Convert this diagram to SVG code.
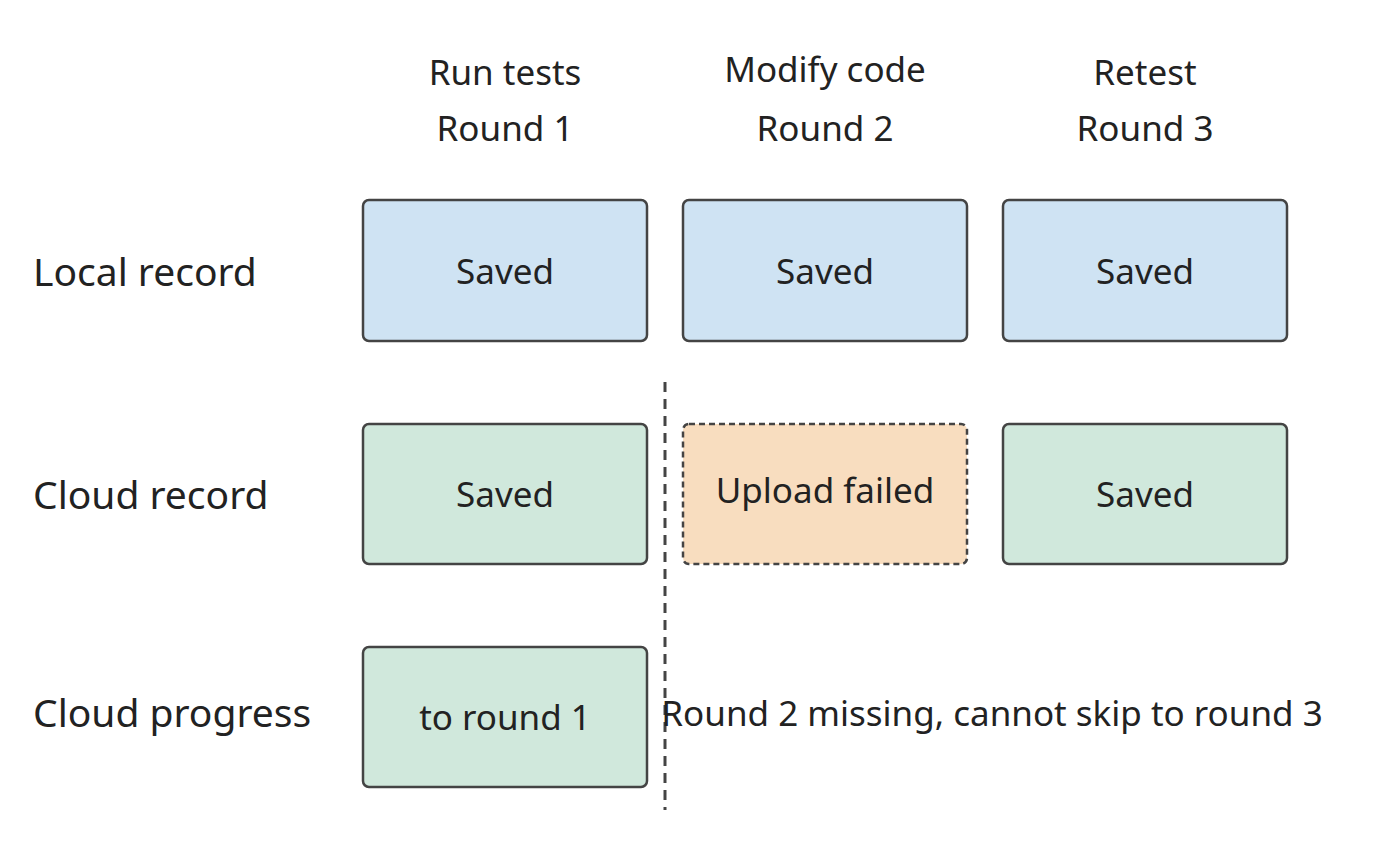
<svg xmlns="http://www.w3.org/2000/svg" width="1400" height="868" viewBox="0 0 1400 868">
<style>
text{font-family:"Noto Sans","Open Sans",sans-serif;fill:#222;}
.h{font-size:35px;text-anchor:middle}
.r{font-size:39px}
.b{font-size:35px;text-anchor:middle}
.box{stroke:#444;stroke-width:2.5}
.blue{fill:#cfe3f3}.green{fill:#d0e8dc}.orange{fill:#f8ddbf;stroke-dasharray:6 4}
</style>
<rect width="1400" height="868" fill="#fff"/>
<g id="headers">
<text class="h" x="505" y="85">Run tests</text><text class="h" x="505" y="141">Round 1</text>
<text class="h" x="825" y="82">Modify code</text><text class="h" x="825" y="141">Round 2</text>
<text class="h" x="1145" y="85">Retest</text><text class="h" x="1145" y="141">Round 3</text>
</g>
<g id="rowlabels">
<text class="r" x="33" y="286">Local record</text>
<text class="r" x="33" y="509">Cloud record</text>
<text class="r" x="33" y="727">Cloud progress</text>
</g>
<g id="local1"><rect class="box blue" x="363" y="200" width="284" height="141" rx="6"/><text class="b" x="505" y="284">Saved</text></g>
<g id="local2"><rect class="box blue" x="683" y="200" width="284" height="141" rx="6"/><text class="b" x="825" y="284">Saved</text></g>
<g id="local3"><rect class="box blue" x="1003" y="200" width="284" height="141" rx="6"/><text class="b" x="1145" y="284">Saved</text></g>
<g id="cloud1"><rect class="box green" x="363" y="424" width="284" height="140" rx="6"/><text class="b" x="505" y="507">Saved</text></g>
<g id="cloud2"><rect class="box orange" x="683" y="424" width="284" height="140" rx="6"/><text class="b" x="825" y="503">Upload failed</text></g>
<g id="cloud3"><rect class="box green" x="1003" y="424" width="284" height="140" rx="6"/><text class="b" x="1145" y="507">Saved</text></g>
<g id="progress1"><rect class="box green" x="363" y="647" width="284" height="140" rx="6"/><text class="b" x="505" y="730">to round 1</text></g>
<g id="connectors">
<line x1="665" y1="382" x2="665" y2="810" stroke="#444" stroke-width="3" stroke-dasharray="10 7"/>
</g>
<g id="note"><text class="b" x="992" y="726">Round 2 missing, cannot skip to round 3</text></g>
</svg>
